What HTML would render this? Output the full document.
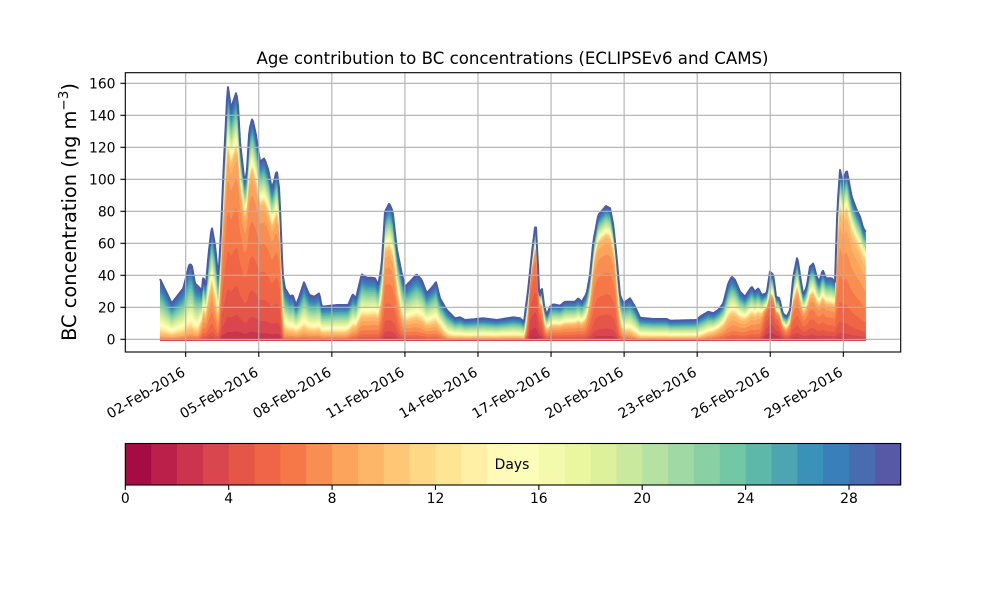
<!DOCTYPE html>
<html>
<head>
<meta charset="utf-8">
<style>
html,body{margin:0;padding:0;background:#fff;}
svg{display:block;}
text{font-family:"DejaVu Sans","Liberation Sans",sans-serif;fill:#000;}
</style>
</head>
<body>
<svg id="chart" xmlns="http://www.w3.org/2000/svg" width="1000" height="600" viewBox="0 0 1000 600">
<rect x="0" y="0" width="1000" height="600" fill="#fff"/>
<g id="stack"></g>
<g id="grid" stroke="#b0b0b0" stroke-width="1.1" fill="none"></g>
<rect x="125.3" y="72.7" width="775.4" height="279.3" fill="none" stroke="#000" stroke-width="1.1"/>
<g id="axes"></g>
<text x="512.5" y="64" font-size="16.6" text-anchor="middle">Age contribution to BC concentrations (ECLIPSEv6 and CAMS)</text>
<text transform="translate(76,212) rotate(-90)" font-size="19.4" text-anchor="middle">BC concentration (ng m<tspan font-size="13.5" dy="-8">−3</tspan><tspan dy="8">)</tspan></text>
<g id="cbar"></g>
<rect x="125.3" y="443.5" width="775.4" height="41.5" fill="none" stroke="#000" stroke-width="1.1"/>
<text x="512" y="469" font-size="13.9" text-anchor="middle">Days</text>
</svg>
<script>
(function(){
var NS="http://www.w3.org/2000/svg";
function el(tag,attrs,parent,txt){var e=document.createElementNS(NS,tag);for(var k in attrs)e.setAttribute(k,attrs[k]);if(txt!==undefined)e.textContent=txt;parent.appendChild(e);return e;}
var K=[[158,1,66],[213,62,79],[244,109,67],[253,174,97],[254,224,139],[255,255,191],[230,245,152],[171,221,164],[102,194,165],[50,136,189],[94,79,162]];
function spectral(t){var s=t*10;var i=Math.floor(s);if(i>=10)i=9;if(i<0)i=0;var f=s-i;var a=K[i],b=K[i+1];
return "rgb("+Math.round(a[0]+(b[0]-a[0])*f)+","+Math.round(a[1]+(b[1]-a[1])*f)+","+Math.round(a[2]+(b[2]-a[2])*f)+")";}
var N=30;
var Y0=339.3;
var E=[[160,279],[171.7,303.3],[183.3,288.3],[189.3,264.3],[191.7,265],[195,283.3],[200,288.3],[201.7,293.3],[203.3,275],[205.7,288.3],[208.3,256.7],[211.7,226.7],[215,245],[218.3,278.3],[220.7,238.3],[223.3,175],[227.7,85],[231,108.3],[236,93.3],[237.7,100],[240,141.7],[244.3,180],[246.7,175],[249.3,130],[252.3,118.3],[256,135],[260,161.7],[264.3,158.3],[268.3,170],[271.7,188.3],[274,181.7],[276.7,170],[279.3,190],[282.7,275],[285,288.3],[290,296.7],[292.7,295],[296,305],[299,297.7],[304,282.3],[309.3,295],[314.3,296.7],[319.3,293.3],[321.7,306.7],[336.7,305],[348.3,305],[352.7,294.3],[356,298.3],[361.7,274.3],[366.7,277.7],[371.7,277.7],[375,278.3],[378.3,285],[381.7,265],[385,211.7],[389.3,203.3],[392.7,211.7],[396.7,248.3],[401.7,273.3],[405,286.7],[410,281.7],[416.7,274.3],[421.7,280],[426.7,293.3],[431.7,287.7],[436,282.3],[440,298.3],[446.7,310],[455,318.3],[460,317.3],[465,320],[473.3,319.3],[483.3,318.3],[496.7,320],[513.3,317.3],[520,318.3],[524,321.7],[528.3,288.3],[531.7,255],[535.7,221.7],[538.3,271.7],[539.3,298.3],[541.7,286.7],[544,305],[546.7,315],[550,306.7],[553.3,304.3],[560,305.7],[565,301.7],[575,301.7],[578.3,298.3],[581.7,302.3],[586.7,293.3],[590,275],[593.3,241.7],[598.3,215],[606,206],[610,208.3],[613.3,225],[616.7,258.3],[620,295],[623.3,303.3],[630,298.3],[635,306.7],[640,317.7],[653.3,319],[666.7,319],[670,320.7],[696.7,320],[700,316.7],[708.3,311.7],[713.3,313.3],[718.3,310],[723.3,303.3],[728.3,283.3],[731.7,276.7],[735,280],[740,291.7],[745,296.7],[751.7,286.7],[755,291.7],[758.3,288.3],[761.7,295],[766.7,293.3],[770,271.7],[773.3,275],[776,296.7],[779.3,298.3],[782.7,313.3],[786.7,316.7],[790,310],[793.3,276.7],[797.3,256.7],[800.7,280],[803.3,295],[806.7,286.7],[810,266.7],[813.3,263.3],[816.7,276.7],[819.3,281.7],[822.7,270],[826,278.3],[831.7,278.3],[835,281.7],[837.3,210],[840,170],[842.7,181.7],[846.7,170],[851.7,196.7],[856.7,210],[860,216.7],[863.3,228.3],[865.7,231.7]];
var F=[[160,0.9,9],[198,0.85,8.5],[203,0.55,7.5],[212,0.5,7],[218,0.65,7.5],[222,0.26,6.2],[240,0.22,6],[280,0.26,6],[284,0.8,8.5],[345,0.8,8.5],[360,0.65,7.5],[378,0.6,7.5],[385,0.3,6.5],[395,0.35,6.5],[402,0.65,7.5],[440,0.7,8],[448,0.88,9],[524,0.88,9],[530,0.18,4.6],[540,0.22,5],[546,0.62,7],[585,0.58,7],[595,0.22,6.3],[615,0.22,6.3],[622,0.75,8],[640,0.88,9],[700,0.88,9],[722,0.62,8],[760,0.48,7.5],[766,0.32,4.5],[778,0.36,4.8],[786,0.55,6.5],[792,0.38,6],[834,0.42,6.5],[838,0.22,7],[866,0.26,7.5]];
function lin(arr,x,k){if(x<=arr[0][0])return arr[0][k];for(var i=1;i<arr.length;i++){if(x<=arr[i][0]){var a=arr[i-1],b=arr[i];var f=(x-a[0])/(b[0]-a[0]);return a[k]+(b[k]-a[k])*f;}}return arr[arr.length-1][k];}
var X0=160,X1=865.7;
var xs=[];for(var x=X0;x<X1;x+=1)xs.push(x);xs.push(X1);
var cum=[];for(var i=0;i<N;i++)cum.push([]);
function oldW(i){if(i<9)return 0;if(i<=12)return 0.4;if(i<=17)return 0.8;if(i<=26)return 1.2;return 1.3;}
xs.forEach(function(x){
  var T=Y0-lin(E,x,1);
  var fold=lin(F,x,1),c=lin(F,x,2);
  var ow=[],yw=[],so=0,sy=0;
  for(var i=0;i<N;i++){
    var w=oldW(i); ow.push(w); so+=w;
    var z=(i+0.5-c)/1.9; var g=Math.exp(-0.5*z*z); if(i<2)g*=0.35; yw.push(g); sy+=g;
  }
  var acc=0;
  for(var i=0;i<N;i++){acc+=T*(fold*ow[i]/so+(1-fold)*yw[i]/sy);cum[i].push(acc);}
});
var stack=document.getElementById("stack");
for(var i=N-1;i>=0;i--){
  var d="M"+X0+" 340.6";
  for(var j=0;j<xs.length;j++){d+=" L"+xs[j].toFixed(1)+" "+(Y0-cum[i][j]).toFixed(2);}
  d+=" L"+X1+" 340.6 Z";
  el("path",{d:d,fill:spectral((i+0.5)/30),stroke:"none"},stack);
}
var td="M"+X0+" "+(Y0-cum[N-1][0]).toFixed(2);
for(var j=1;j<xs.length;j++){td+=" L"+xs[j].toFixed(1)+" "+(Y0-cum[N-1][j]).toFixed(2);}
el("path",{d:td,fill:"none",stroke:"rgb(72,92,168)","stroke-width":2,"stroke-linejoin":"round"},stack);
el("line",{x1:X0,y1:340,x2:X1,y2:340,stroke:"rgb(222,80,72)","stroke-width":1.3},stack);
var grid=document.getElementById("grid");
var axes=document.getElementById("axes");
var dayLabels=["02-Feb-2016","05-Feb-2016","08-Feb-2016","11-Feb-2016","14-Feb-2016","17-Feb-2016","20-Feb-2016","23-Feb-2016","26-Feb-2016","29-Feb-2016"];
for(var k=0;k<10;k++){
  var tx=185.7+k*73.07;
  el("line",{x1:tx,y1:72.7,x2:tx,y2:352},grid);
  el("line",{x1:tx,y1:352,x2:tx,y2:356.9,stroke:"#000","stroke-width":1.1},axes);
  el("text",{transform:"translate("+(tx+0.5).toFixed(1)+",375) rotate(-30)","font-size":"13.9","text-anchor":"end"},axes,dayLabels[k]);
}
for(var v=0;v<=160;v+=20){
  var ty=Y0-1.6*v;
  el("line",{x1:125.3,y1:ty,x2:900.7,y2:ty},grid);
  el("line",{x1:120.4,y1:ty,x2:125.3,y2:ty,stroke:"#000","stroke-width":1.1},axes);
  el("text",{x:115.5,y:(ty+5).toFixed(1),"font-size":"13.9","text-anchor":"end"},axes,String(v));
}
var cb=document.getElementById("cbar");
var w=775.4/30;
for(var i=0;i<30;i++){
  el("rect",{x:(125.3+i*w).toFixed(2),y:443.5,width:(w+0.4).toFixed(2),height:41.5,fill:spectral((i+0.5)/30)},cb);
}
for(var v=0;v<=28;v+=4){
  var cx=125.3+v*w;
  el("line",{x1:cx,y1:485,x2:cx,y2:489.9,stroke:"#000","stroke-width":1.1},cb);
  el("text",{x:cx.toFixed(1),y:"503","font-size":"13.9","text-anchor":"middle"},cb,String(v));
}
})();
</script>
</body>
</html>
